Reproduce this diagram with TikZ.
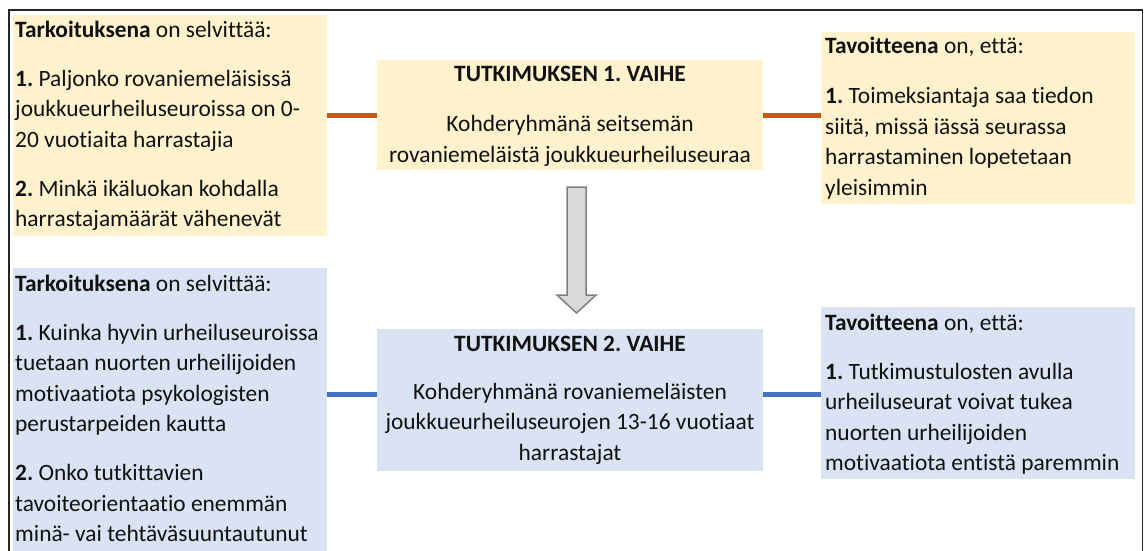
\documentclass[tikz,border=0pt]{standalone}
\usepackage{fontspec}
\setmainfont{Carlito}[Ligatures=NoCommon]
\frenchspacing
\definecolor{ylw}{HTML}{FFF2CC}
\definecolor{blu}{HTML}{DAE3F3}
\definecolor{orng}{HTML}{C55A11}
\definecolor{bline}{HTML}{4472C4}
\definecolor{agray}{HTML}{D9D9D9}
\definecolor{astroke}{HTML}{7F7F7F}
\definecolor{txt}{HTML}{111111}
\tikzset{
  boxbase/.style={inner sep=0pt, outer sep=0pt, anchor=north west},
  ybox/.style={boxbase, fill=ylw},
  bbox/.style={boxbase, fill=blu},
  txtl/.style={inner sep=0pt, anchor=base west, align=left, text=txt,
    font={\fontsize{23.4}{30.5}\selectfont\frenchspacing}},
  txtc/.style={inner sep=0pt, anchor=base, align=center, text=txt,
    font={\fontsize{23.4}{30.5}\selectfont\frenchspacing}},
  oconn/.style={draw=orng, line width=5pt},
  bconn/.style={draw=bline, line width=5pt},
  blockarrow/.style={fill=agray, draw=astroke, line width=1.5pt, line join=miter},
  frame/.style={draw=black!85, line width=1.5pt}
}
\begin{document}
\begin{tikzpicture}[x=1pt,y=-1pt]
\useasboundingbox (0,0) rectangle (1144,550);
% outer frame
\draw[frame] (9,560) -- (9,10) -- (1142.5,10) -- (1142.5,560);
% boxes
\node[ybox, minimum width=314pt, minimum height=221pt] (tl) at (13,15) {};
\node[ybox, minimum width=386pt, minimum height=110pt] (tm) at (377,60) {};
\node[ybox, minimum width=314pt, minimum height=172pt] (tr) at (821,32) {};
\node[bbox, minimum width=314pt, minimum height=290pt] (bl) at (13,268) {};
\node[bbox, minimum width=386pt, minimum height=142pt] (bm) at (377,329) {};
\node[bbox, minimum width=314pt, minimum height=172pt] (br) at (821,307) {};
% texts (anchored at the baseline of their last line)
\node[txtl] (tltext) at (15,226.5) {\textbf{Tarkoituksena} on selvittää:\\[18.5pt]
\textbf{1.} Paljonko rovaniemeläisissä\\
joukkueurheiluseuroissa on 0-\\
20 vuotiaita harrastajia\\[18.5pt]
\textbf{2.} Minkä ikäluokan kohdalla\\
harrastajamäärät vähenevät};
\node[txtc] (tmtext) at (570,162) {\textbf{TUTKIMUKSEN 1. VAIHE}\\[20pt]
Kohderyhmänä seitsemän\\
rovaniemeläistä joukkueurheiluseuraa};
\node[txtl] (trtext) at (825,195) {\textbf{Tavoitteena} on, että:\\[20pt]
\textbf{1.} Toimeksiantaja saa tiedon\\
siitä, missä iässä seurassa\\
harrastaminen lopetetaan\\
yleisimmin};
\node[txtl] (bltext) at (15,541.5) {\textbf{Tarkoituksena} on selvittää:\\[18.5pt]
\textbf{1.} Kuinka hyvin urheiluseuroissa\\
tuetaan nuorten urheilijoiden\\
motivaatiota psykologisten\\
perustarpeiden kautta\\[18.5pt]
\textbf{2.} Onko tutkittavien\\
tavoiteorientaatio enemmän\\
minä- vai tehtäväsuuntautunut};
\node[txtc] (bmtext) at (570,460) {\textbf{TUTKIMUKSEN 2. VAIHE}\\[17.5pt]
Kohderyhmänä rovaniemeläisten\\
joukkueurheiluseurojen 13-16 vuotiaat\\
harrastajat};
\node[txtl] (brtext) at (825,470.5) {\textbf{Tavoitteena} on, että:\\[18.5pt]
\textbf{1.} Tutkimustulosten avulla\\
urheiluseurat voivat tukea\\
nuorten urheilijoiden\\
motivaatiota entistä paremmin};
% connectors
\draw[oconn] (tl.east |- tm.west) -- (tm.west);
\draw[oconn] (tm.east) -- (tr.west |- tm.east);
\coordinate (bmc) at ([yshift=5.5pt]bm.west);
\coordinate (bmd) at ([yshift=5.5pt]bm.east);
\draw[bconn] (bl.east |- bmc) -- (bmc);
\draw[bconn] (bmd) -- (br.west |- bmd);
% block arrow between phases
\draw[blockarrow] (567,187) -- (586,187) -- (586,295) -- (596,295) -- (576.5,313)
  -- (557,295) -- (567,295) -- cycle;
\end{tikzpicture}
\end{document}
